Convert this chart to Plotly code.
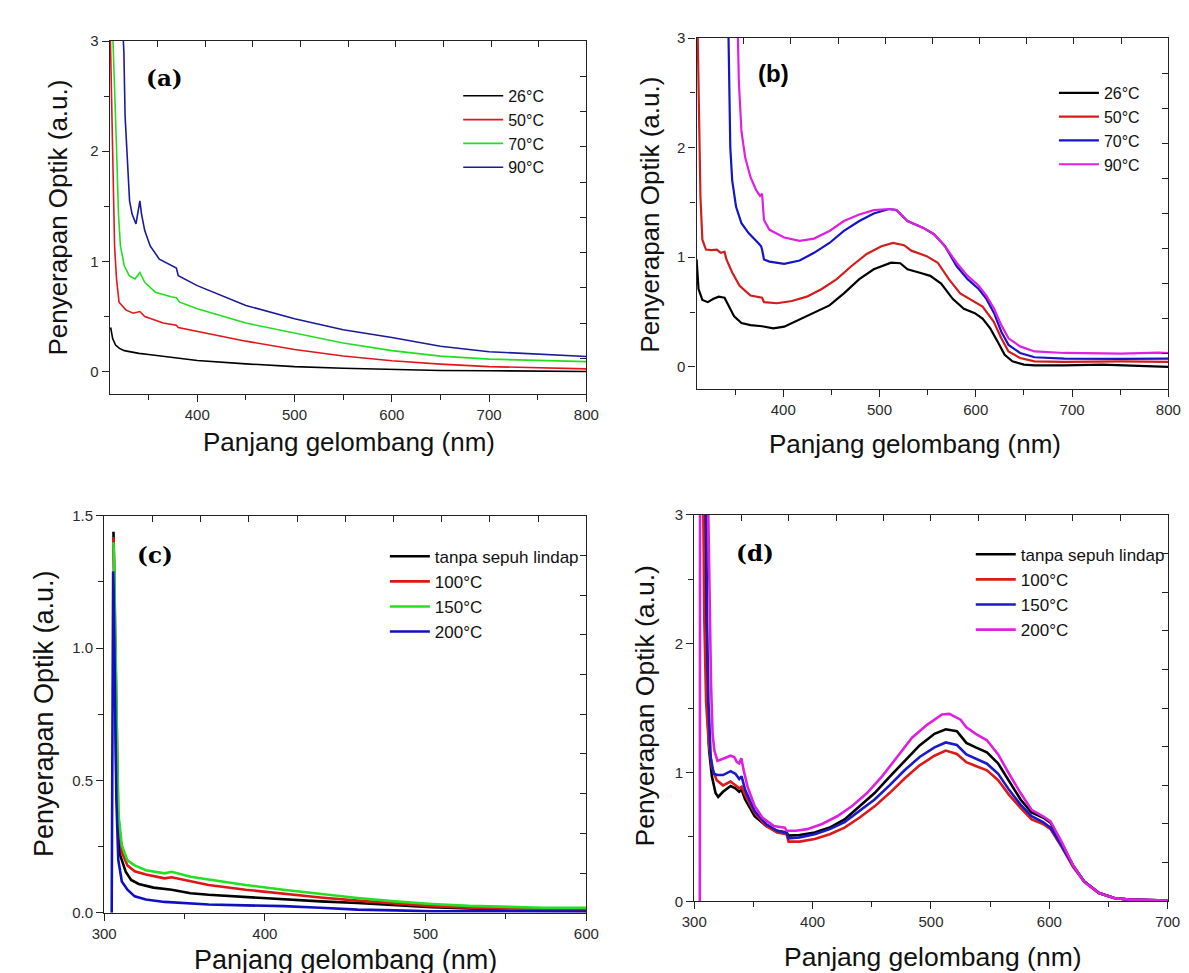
import plotly.graph_objects as go

W, H = 1189, 973

# ---------------- Panel (a) data ----------------
a_x_26 = [311, 313, 316, 320, 325, 330, 340, 350, 375, 400, 450, 500, 550, 600, 650, 700, 750, 800]
a_y_26 = [0.40, 0.30, 0.24, 0.21, 0.19, 0.18, 0.165, 0.155, 0.125, 0.10, 0.07, 0.045, 0.03, 0.018, 0.01, 0.008, 0.003, 0.0]
a_x_50 = [310.5, 313, 315, 317, 319.6, 326.5, 334, 341, 346, 365, 378.5, 380.5, 400, 450, 500, 550, 600, 650, 700, 800]
a_y_50 = [3.1, 1.97, 1.14, 0.84, 0.63, 0.56, 0.53, 0.545, 0.50, 0.44, 0.42, 0.40, 0.365, 0.276, 0.20, 0.142, 0.098, 0.068, 0.045, 0.024]
a_x_70 = [313, 315, 317, 319, 321, 325, 330, 336, 341, 346, 357, 373, 378.5, 382, 400, 450, 500, 550, 600, 650, 700, 800]
a_y_70 = [3.1, 2.62, 2.03, 1.43, 1.14, 0.96, 0.87, 0.84, 0.90, 0.81, 0.72, 0.68, 0.67, 0.63, 0.57, 0.44, 0.35, 0.26, 0.19, 0.14, 0.113, 0.09]
a_x_90 = [323.5, 324.6, 325.8, 328.5, 330.4, 333, 337, 341, 342.7, 346, 351.6, 361, 373, 378.5, 380.5, 400, 450, 500, 550, 600, 650, 700, 800]
a_y_90 = [3.1, 2.89, 2.32, 1.88, 1.55, 1.43, 1.34, 1.55, 1.43, 1.28, 1.14, 1.02, 0.96, 0.94, 0.87, 0.78, 0.60, 0.48, 0.38, 0.31, 0.23, 0.18, 0.137]

# ---------------- Panel (b) data ----------------
b_x_26 = [310, 312, 316, 321.6, 327.5, 333, 339, 343, 349, 356.6, 366, 378, 389.6, 401, 417, 432, 448, 463, 479, 494, 512, 521.6, 529, 541, 552.7, 564, 576, 587.6, 599, 607, 615, 622.6, 630, 638, 650, 661, 692, 731, 770, 800]
b_y_26 = [0.98, 0.71, 0.61, 0.59, 0.62, 0.64, 0.63, 0.56, 0.46, 0.40, 0.38, 0.37, 0.35, 0.366, 0.43, 0.49, 0.56, 0.67, 0.80, 0.89, 0.95, 0.945, 0.89, 0.86, 0.83, 0.76, 0.62, 0.53, 0.49, 0.44, 0.35, 0.23, 0.11, 0.05, 0.02, 0.012, 0.012, 0.02, 0.012, 0.0]
b_x_50 = [311, 312.7, 314, 316, 319.7, 325.5, 331, 335, 339, 341, 347, 354.7, 366, 378, 380, 393.5, 409, 424.5, 440, 455.6, 471, 486.7, 502, 514, 525.5, 533, 549, 560.5, 572, 583.8, 599, 607, 618.7, 626.5, 634, 646, 661, 692, 751, 800]
b_y_50 = [3.1, 2.30, 1.55, 1.16, 1.07, 1.065, 1.07, 1.04, 1.05, 0.98, 0.86, 0.74, 0.65, 0.63, 0.59, 0.58, 0.60, 0.64, 0.71, 0.80, 0.92, 1.03, 1.10, 1.13, 1.11, 1.06, 1.01, 0.95, 0.80, 0.67, 0.59, 0.55, 0.41, 0.26, 0.14, 0.08, 0.05, 0.045, 0.05, 0.045]
b_x_70 = [343, 343.8, 345, 347, 351, 356.6, 364, 374, 377, 378, 380, 385.7, 401, 417, 432, 448, 463, 479, 494, 510, 517.7, 529, 545, 556.6, 568, 580, 591.5, 603, 611, 619, 626.5, 634, 646, 661, 692, 751, 800]
b_y_70 = [3.1, 2.60, 2.0, 1.70, 1.46, 1.31, 1.22, 1.13, 1.10, 1.07, 0.98, 0.96, 0.94, 0.97, 1.04, 1.13, 1.24, 1.33, 1.40, 1.44, 1.43, 1.33, 1.27, 1.21, 1.10, 0.92, 0.80, 0.71, 0.62, 0.49, 0.32, 0.20, 0.126, 0.087, 0.075, 0.072, 0.075]
b_x_90 = [352.7, 353.9, 356.6, 360.5, 366, 372, 375.9, 378, 380, 385.7, 401, 417, 432, 448, 463, 479, 494, 510, 517.7, 529, 545, 556.6, 568, 580, 591.5, 603, 611, 619, 626.5, 634, 646, 661, 692, 751, 790, 800]
b_y_90 = [3.1, 2.60, 2.15, 1.91, 1.73, 1.61, 1.56, 1.58, 1.34, 1.25, 1.18, 1.15, 1.17, 1.24, 1.33, 1.39, 1.43, 1.44, 1.43, 1.33, 1.27, 1.21, 1.10, 0.95, 0.83, 0.74, 0.65, 0.53, 0.38, 0.26, 0.186, 0.14, 0.126, 0.12, 0.13, 0.126]

# ---------------- Panel (c) data ----------------
c_x_0 = [305.8, 306, 307.6, 310, 313.4, 316.8, 321.5, 330.7, 342, 353.8, 365, 388, 411.5, 434.6, 457.6, 480.7, 503.8, 526.9, 550, 573, 600]
c_y_0 = [1.44, 1.38, 0.49, 0.217, 0.155, 0.124, 0.109, 0.095, 0.087, 0.074, 0.068, 0.059, 0.05, 0.043, 0.037, 0.028, 0.021, 0.016, 0.012, 0.01, 0.009]
c_x_100 = [305.8, 306, 308.8, 311, 314.5, 319, 326, 337.6, 342, 353.8, 365, 388, 411.5, 434.6, 457.6, 480.7, 503.8, 526.9, 550, 573, 600]
c_y_100 = [1.42, 1.36, 0.365, 0.229, 0.179, 0.157, 0.145, 0.13, 0.134, 0.118, 0.105, 0.087, 0.072, 0.058, 0.046, 0.035, 0.025, 0.019, 0.015, 0.012, 0.011]
c_x_150 = [305.8, 306.2, 308.8, 311, 314.5, 319, 326, 337.6, 342, 353.8, 365, 388, 411.5, 434.6, 457.6, 480.7, 503.8, 526.9, 550, 573, 600]
c_y_150 = [1.40, 1.33, 0.377, 0.254, 0.198, 0.179, 0.161, 0.149, 0.155, 0.136, 0.126, 0.105, 0.087, 0.071, 0.056, 0.043, 0.033, 0.026, 0.022, 0.019, 0.019]
c_x_200 = [304.7, 305.6, 306, 307.6, 308.8, 311, 314.5, 319, 326, 337.6, 349, 365, 388, 411.5, 434.6, 457.6, 480.7, 503.8, 550, 600]
c_y_200 = [0.0, 1.29, 1.20, 0.43, 0.20, 0.118, 0.087, 0.062, 0.05, 0.041, 0.037, 0.031, 0.028, 0.025, 0.019, 0.012, 0.009, 0.006, 0.006, 0.005]

# ---------------- Panel (d) data ----------------
d_x_0 = [308.5, 309.5, 310.8, 312.6, 314.9, 318, 320.2, 324.3, 330.7, 334.8, 338, 340, 343, 351, 360.7, 370, 378, 379.7, 389, 401.8, 414.5, 427, 439.8, 452.4, 465, 477.7, 490.4, 503, 512.5, 521.9, 529.9, 537.8, 547.3, 556.8, 566, 575.7, 585, 594.7, 601, 610.5, 620, 629.5, 642, 654.8, 667.4, 700]
d_y_0 = [3.1, 2.19, 1.55, 1.17, 0.97, 0.84, 0.81, 0.85, 0.895, 0.877, 0.85, 0.865, 0.79, 0.66, 0.585, 0.547, 0.534, 0.51, 0.514, 0.534, 0.572, 0.636, 0.737, 0.84, 0.966, 1.09, 1.21, 1.30, 1.335, 1.32, 1.23, 1.195, 1.157, 1.07, 0.93, 0.79, 0.69, 0.65, 0.61, 0.445, 0.28, 0.153, 0.064, 0.025, 0.013, 0.005]
d_x_100 = [307.6, 308.5, 310, 312.3, 314.9, 319, 324.3, 330.7, 334.8, 338, 340, 343, 351, 360.7, 370, 378, 379.7, 389, 401.8, 414.5, 427, 439.8, 452.4, 465, 477.7, 490.4, 503, 512.5, 521.9, 529.9, 537.8, 547.3, 556.8, 566, 575.7, 585, 594.7, 601, 610.5, 620, 629.5, 642, 654.8, 667.4, 700]
d_y_100 = [3.1, 2.19, 1.55, 1.22, 1.04, 0.94, 0.90, 0.93, 0.90, 0.877, 0.89, 0.826, 0.687, 0.585, 0.534, 0.52, 0.463, 0.463, 0.483, 0.52, 0.572, 0.65, 0.737, 0.84, 0.953, 1.055, 1.13, 1.17, 1.144, 1.08, 1.05, 1.017, 0.94, 0.826, 0.725, 0.636, 0.60, 0.56, 0.42, 0.267, 0.153, 0.064, 0.025, 0.013, 0.005]
d_x_150 = [310, 310.8, 312, 313.9, 316.4, 319.6, 324.3, 330.7, 334.8, 338, 340, 343, 351, 360.7, 370, 378, 379.7, 389, 401.8, 414.5, 427, 439.8, 452.4, 465, 477.7, 490.4, 503, 512.5, 521.9, 529.9, 537.8, 547.3, 556.8, 566, 575.7, 585, 594.7, 601, 610.5, 620, 629.5, 642, 654.8, 667.4, 700]
d_y_150 = [3.1, 2.19, 1.55, 1.12, 0.99, 0.98, 0.98, 1.01, 0.99, 0.95, 0.97, 0.865, 0.70, 0.60, 0.547, 0.53, 0.488, 0.496, 0.52, 0.56, 0.615, 0.70, 0.79, 0.90, 1.017, 1.12, 1.195, 1.233, 1.213, 1.14, 1.106, 1.068, 0.99, 0.865, 0.75, 0.66, 0.615, 0.572, 0.43, 0.275, 0.153, 0.064, 0.025, 0.013, 0.005]
d_x_200 = [304.7, 304.9, 311.7, 312.6, 313.3, 314.2, 315.5, 317, 319.6, 324.3, 330.7, 333.8, 336, 338, 339.8, 341.7, 345, 351, 357.5, 367, 376.5, 378, 386, 395.5, 408, 420.8, 433.4, 446, 458.7, 471.4, 484, 496.7, 509.3, 515.6, 525, 529.9, 537.8, 547.3, 556.8, 566, 575.7, 585, 594.7, 601, 610.5, 620, 629.5, 642, 654.8, 667.4, 700]
d_y_200 = [0.0, 3.1, 3.1, 2.70, 2.19, 1.68, 1.30, 1.17, 1.09, 1.106, 1.13, 1.12, 1.08, 1.07, 1.11, 1.02, 0.89, 0.74, 0.65, 0.585, 0.572, 0.547, 0.547, 0.56, 0.60, 0.66, 0.74, 0.84, 0.97, 1.12, 1.27, 1.37, 1.45, 1.455, 1.41, 1.35, 1.30, 1.25, 1.14, 0.99, 0.84, 0.71, 0.66, 0.62, 0.46, 0.28, 0.15, 0.064, 0.025, 0.013, 0.005]

names_ab = ["26°C", "50°C", "70°C", "90°C"]
names_cd = ["tanpa sepuh lindap", "100°C", "150°C", "200°C"]

panel_labels = ["(a)", "(b)", "(c)", "(d)"]
x_title = "Panjang gelombang (nm)"
y_title = "Penyerapan Optik (a.u.)"

# ---------------- styling / layout geometry ----------------
def px_x(v):
    return v / W

def px_y(v):
    return 1 - v / H

FONT = "Liberation Sans, Arial, sans-serif"
TICKC = "#2a2a2a"

panels = {
    "a": dict(rect=(90.7, 578, 24.5, 383.3), xr=[310, 800], yr=[-0.2, 3], xt=[400, 500, 600, 700, 800], xm=[350, 450, 550, 650, 750],
              yt=[0, 1, 2, 3], ym=[0.5, 1.5, 2.5], fmt=None),
    "b": dict(rect=(690.7, 1173, 21.5, 378.3), xr=[310, 800], yr=[-0.2, 3], xt=[400, 500, 600, 700, 800], xm=[350, 450, 550, 650, 750],
              yt=[0, 1, 2, 3], ym=[0.5, 1.5, 2.5], fmt=None),
    "c": dict(rect=(85, 578, 507.7, 911.7), xr=[300, 600], yr=[0, 1.5], xt=[300, 400, 500, 600], xm=[350, 450, 550],
              yt=[0, 0.5, 1.0, 1.5], ym=[0.25, 0.75, 1.25], fmt=".1f"),
    "d": dict(rect=(688.3, 1172.3, 506.7, 900), xr=[300, 700], yr=[0, 3], xt=[300, 400, 500, 600, 700], xm=[350, 450, 550, 650],
              yt=[0, 1, 2, 3], ym=[0.5, 1.5, 2.5], fmt=None),
}

fig = go.Figure()

series = [
    ("a", 1, [(a_x_26, a_y_26, "#000000"), (a_x_50, a_y_50, "#e3161b"), (a_x_70, a_y_70, "#1fe01f"), (a_x_90, a_y_90, "#1a1a9c")], names_ab, 1.6),
    ("b", 2, [(b_x_26, b_y_26, "#000000"), (b_x_50, b_y_50, "#d41c1c"), (b_x_70, b_y_70, "#1414c8"), (b_x_90, b_y_90, "#e11fe1")], names_ab, 2.2),
    ("c", 3, [(c_x_0, c_y_0, "#000000"), (c_x_100, c_y_100, "#e01515"), (c_x_150, c_y_150, "#22e022"), (c_x_200, c_y_200, "#1010c0")], names_cd, 2.6),
    ("d", 4, [(d_x_0, d_y_0, "#000000"), (d_x_100, d_y_100, "#dd1a1a"), (d_x_150, d_y_150, "#1a1ac8"), (d_x_200, d_y_200, "#e020e0")], names_cd, 2.6),
]

for key, i, lines, names, lw in series:
    sfx = "" if i == 1 else str(i)
    for (xs, ys, col), nm in zip(lines, names):
        fig.add_trace(go.Scatter(x=xs, y=ys, mode="lines", name=nm,
                                 line=dict(color=col, width=lw),
                                 xaxis="x" + sfx, yaxis="y" + sfx,
                                 legend="legend" + sfx, showlegend=True,
                                 hoverinfo="skip"))
    # empty helper trace so the inner-tick frame axes (top / right) are drawn
    fig.add_trace(go.Scatter(x=[None], y=[None], mode="lines", showlegend=False, hoverinfo="skip",
                             xaxis="x" + str(4 + i), yaxis="y" + str(4 + i)))

layout = dict(width=W, height=H, margin=dict(l=0, r=0, t=0, b=0),
              paper_bgcolor="white", plot_bgcolor="white",
              font=dict(family=FONT, color="#111"), annotations=[])

legend_pos = {"a": (447, 63, 16), "b": (1056, 60, 16), "c": (372, 531, 17), "d": (971, 529, 17)}
label_pos = {"a": (147, 62, "DejaVu Serif", 23), "b": (769, 58, "Liberation Sans", 24),
             "c": (137, 547, "DejaVu Serif", 23), "d": (750, 545, "DejaVu Serif", 23)}
ytitle_pos = {"a": (38, 204, 26), "b": (643.6, 201.7, 26), "c": (23, 709, 27), "d": (638, 701.7, 26.5)}
xtitle_pos = {"a": (335, 433, 26), "b": (914, 435, 26), "c": (332, 960, 27), "d": (932, 956.7, 26.5)}

for idx, key in enumerate(["a", "b", "c", "d"]):
    i = idx + 1
    p = panels[key]
    l, r, t, b = p["rect"]
    sfx = "" if i == 1 else str(i)
    xd = [px_x(l), px_x(r)]
    yd = [px_y(b), px_y(t)]
    layout["xaxis" + sfx] = dict(domain=xd, range=p["xr"], anchor="y" + sfx, showline=True, linecolor="#222", linewidth=1.3,
                                 mirror=True, ticks="outside", ticklen=7, tickwidth=1.2, tickcolor="#222",
                                 tickvals=p["xt"], showgrid=False, zeroline=False,
                                 tickfont=dict(size=15, color=TICKC, family=FONT),
                                 minor=dict(tickvals=p["xm"], ticks="outside", ticklen=5, tickcolor="#222", showgrid=False))
    layout["yaxis" + sfx] = dict(domain=yd, range=p["yr"], anchor="x" + sfx, showline=True, linecolor="#222", linewidth=1.3,
                                 mirror=True, ticks="outside", ticklen=7, tickwidth=1.2, tickcolor="#222",
                                 tickvals=p["yt"], showgrid=False, zeroline=False,
                                 tickfont=dict(size=15, color=TICKC, family=FONT),
                                 minor=dict(tickvals=p["ym"], ticks="outside", ticklen=5, tickcolor="#222", showgrid=False))
    if p["fmt"]:
        layout["yaxis" + sfx]["tickformat"] = p["fmt"]
    x0, x1 = p["xr"]
    y0, y1 = p["yr"]
    topvals = [x0 + k * (x1 - x0) / 10 for k in range(1, 10)]
    rightvals = [y0 + k * (y1 - y0) / 10 for k in range(1, 10)]
    layout["xaxis" + str(4 + i)] = dict(overlaying="x" + sfx, side="top", anchor="y" + sfx, range=p["xr"],
                                        tickvals=topvals, ticks="inside", ticklen=6, tickwidth=1.2, tickcolor="#222",
                                        showticklabels=False, showline=False, showgrid=False, zeroline=False)
    layout["yaxis" + str(4 + i)] = dict(overlaying="y" + sfx, side="right", anchor="x" + sfx, range=p["yr"],
                                        tickvals=rightvals, ticks="inside", ticklen=6, tickwidth=1.2, tickcolor="#222",
                                        showticklabels=False, showline=False, showgrid=False, zeroline=False)
    lx, ly, lfs = legend_pos[key]
    layout["legend" + sfx] = dict(x=px_x(lx), y=px_y(ly), xanchor="left", yanchor="top",
                                  bgcolor="rgba(0,0,0,0)", borderwidth=0, itemwidth=40,
                                  font=dict(size=lfs, color="#111", family=FONT), tracegroupgap=0)
    bx, by, bfam, bfs = label_pos[key]
    layout["annotations"].append(dict(text="<b>%s</b>" % panel_labels[idx], x=px_x(bx), y=px_y(by), xref="paper", yref="paper",
                                      showarrow=False, font=dict(family=bfam, size=bfs, color="#000"),
                                      xanchor="center", yanchor="middle"))
    tx, ty, tfs = ytitle_pos[key]
    layout["annotations"].append(dict(text=y_title, x=px_x(tx), y=px_y(ty), xref="paper", yref="paper",
                                      showarrow=False, textangle=-90, font=dict(family=FONT, size=tfs, color="#111"),
                                      xanchor="center", yanchor="middle"))
    tx, ty, tfs = xtitle_pos[key]
    layout["annotations"].append(dict(text=x_title, x=px_x(tx), y=px_y(ty), xref="paper", yref="paper",
                                      showarrow=False, font=dict(family=FONT, size=tfs, color="#111"),
                                      xanchor="center", yanchor="middle"))

fig.update_layout(**layout)
fig.write_html("out.html")
